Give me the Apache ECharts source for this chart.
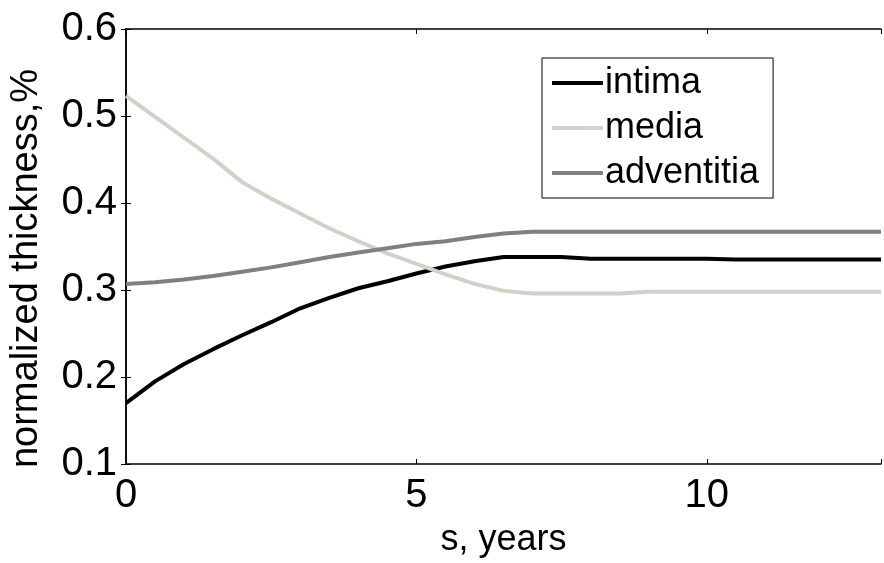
<!DOCTYPE html>
<html>
<head>
<meta charset="utf-8">
<script src="https://cdn.jsdelivr.net/npm/echarts@6/dist/echarts.min.js"></script>
<style>
html,body{margin:0;padding:0;background:#fff;}
#chart{width:884px;height:563px;}
</style>
</head>
<body>
<div id="chart"></div>
<script>
// Data
var years = [0, 0.5, 1, 1.5, 2, 2.5, 3, 3.5, 4, 4.5, 5, 5.5, 6, 6.5, 7, 7.5, 8, 8.5, 9, 9.5, 10, 10.5, 11, 11.5, 12, 12.5, 13];
var intima = [0.170, 0.195, 0.215, 0.232, 0.248, 0.263, 0.279, 0.291, 0.302, 0.310, 0.319, 0.327, 0.333, 0.338, 0.338, 0.338, 0.336, 0.336, 0.336, 0.336, 0.336, 0.335, 0.335, 0.335, 0.335, 0.335, 0.335];
var media = [0.523, 0.499, 0.475, 0.451, 0.424, 0.405, 0.388, 0.371, 0.356, 0.342, 0.330, 0.318, 0.307, 0.299, 0.296, 0.296, 0.296, 0.296, 0.298, 0.298, 0.298, 0.298, 0.298, 0.298, 0.298, 0.298, 0.298];
var adventitia = [0.307, 0.309, 0.312, 0.316, 0.321, 0.326, 0.332, 0.338, 0.343, 0.348, 0.353, 0.356, 0.361, 0.365, 0.367, 0.367, 0.367, 0.367, 0.367, 0.367, 0.367, 0.367, 0.367, 0.367, 0.367, 0.367, 0.367];
var seriesNames = ['intima', 'media', 'adventitia'];
var seriesColors = ['#000000', '#d4d0c8', '#808080'];
var xTicks = [0, 5, 10];
var yTicks = [0.1, 0.2, 0.3, 0.4, 0.5, 0.6];
var xLabel = 's, years';
var yLabel = 'normalized thickness,%';

function pairs(xs, ys) { return xs.map(function (x, i) { return [x, ys[i]]; }); }

var FONT = "'Liberation Sans', Arial, sans-serif";
var chart = echarts.init(document.getElementById('chart'), null, {renderer: 'canvas'});

var axisLineStyle = {show: true, lineStyle: {color: '#000', width: 1.5}};
var tickStyle = {show: true, inside: true, length: 5, lineStyle: {color: '#000', width: 1}};

var seriesData = [intima, media, adventitia];

chart.setOption({
  animation: false,
  backgroundColor: '#fff',
  grid: {left: 122, top: 29, width: 773, bottom: 87, containLabel: false},
  legend: {
    data: seriesNames.map(function (n) { return {name: n, icon: 'rect'}; }),
    orient: 'vertical',
    left: 542,
    top: 58,
    padding: [7, 14, 7, 10],
    itemGap: 9,
    itemWidth: 51,
    itemHeight: 4,
    borderColor: '#000',
    borderWidth: 1,
    backgroundColor: '#fff',
    textStyle: {fontFamily: FONT, fontSize: 36, color: '#000', padding: [0, 0, 0, -3]}
  },
  xAxis: [{
    type: 'value', min: 0, max: 13, interval: 5,
    axisLine: axisLineStyle, axisTick: tickStyle, splitLine: {show: false},
    axisLabel: {fontFamily: FONT, fontSize: 40, color: '#000', margin: 12,
      formatter: function (v) { return xTicks.indexOf(v) >= 0 ? String(v) : ''; }},
    name: xLabel, nameLocation: 'middle', nameGap: 58,
    nameTextStyle: {fontFamily: FONT, fontSize: 36, color: '#000'}
  }, {
    type: 'value', min: 0, max: 13, interval: 5, position: 'top',
    axisLine: axisLineStyle, axisTick: tickStyle, axisLabel: {show: false}, splitLine: {show: false}
  }],
  yAxis: [{
    type: 'value', min: 0.1, max: 0.6, interval: 0.1,
    axisLine: axisLineStyle, axisTick: tickStyle, splitLine: {show: false},
    axisLabel: {fontFamily: FONT, fontSize: 40, color: '#000', margin: 9,
      formatter: function (v) { return v.toFixed(1); }},
    name: yLabel, nameLocation: 'middle', nameGap: 80,
    nameTextStyle: {fontFamily: FONT, fontSize: 38, color: '#000', padding: [0, 44, 0, 0]}
  }, {
    type: 'value', min: 0.1, max: 0.6, interval: 0.1, position: 'right',
    axisLine: axisLineStyle, axisTick: tickStyle, axisLabel: {show: false}, splitLine: {show: false}
  }],
  series: seriesNames.map(function (n, i) {
    return {name: n, type: 'line', data: pairs(years, seriesData[i]), showSymbol: false, symbol: 'none',
      lineStyle: {color: seriesColors[i], width: 4}, itemStyle: {color: seriesColors[i]}};
  })
});
</script>
</body>
</html>
